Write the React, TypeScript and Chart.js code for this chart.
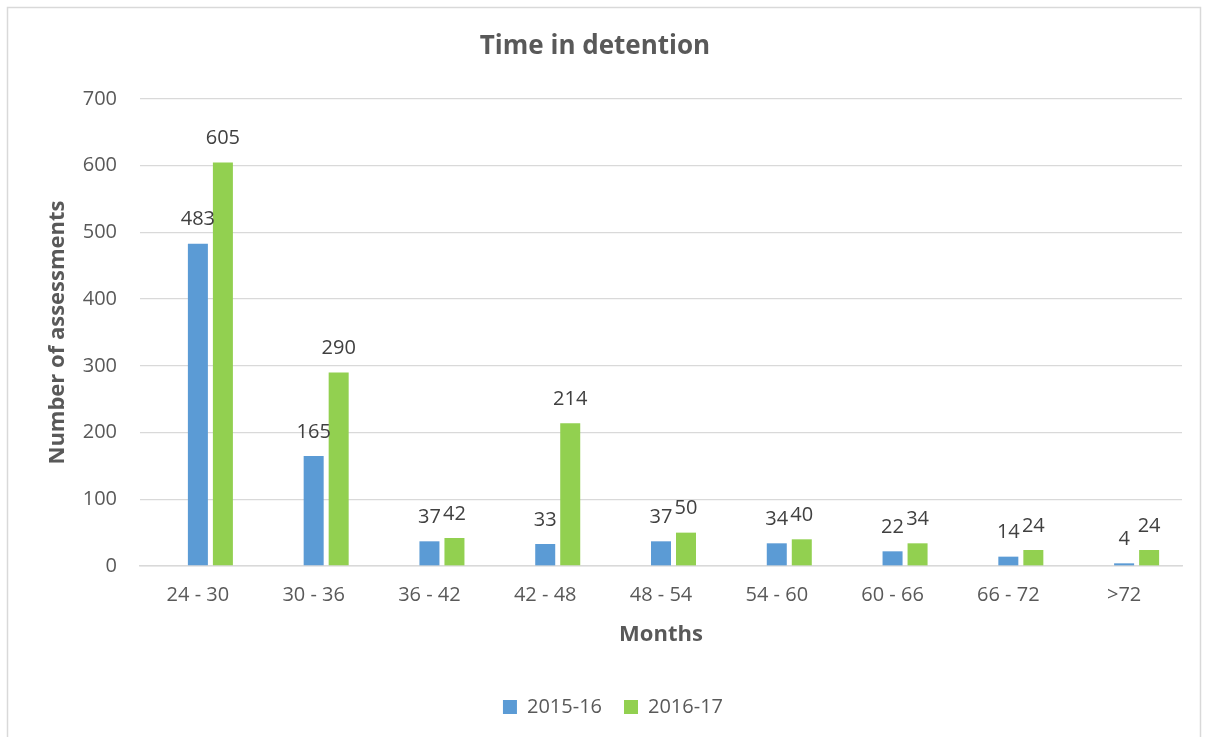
import React, { useEffect, useRef } from "react";
import { Chart, registerables } from "chart.js";

Chart.register(...registerables);

const categories = ["24 - 30", "30 - 36", "36 - 42", "42 - 48", "48 - 54", "54 - 60", "60 - 66", "66 - 72", ">72"];
const series2015 = [483, 165, 37, 33, 37, 34, 22, 14, 4];
const series2016 = [605, 290, 42, 214, 50, 40, 34, 24, 24];
const spacerSeries: (number | null)[] = [null, null, null, null, null, null, null, null, null];
const yTicks = { min: 0, max: 700, step: 100 };

const FONT = "'Open Sans', 'Noto Sans', sans-serif";

const borderPlugin = {
  id: "outerBorder",
  beforeDraw(chart: any) {
    const ctx = chart.ctx;
    ctx.save();
    ctx.fillStyle = "#ffffff";
    ctx.fillRect(0, 0, chart.width, chart.height);
    ctx.strokeStyle = "#d9d9d9";
    ctx.lineWidth = 1.5;
    ctx.strokeRect(7.5, 7.5, 1193, 745);
    ctx.restore();
  },
};

const legendShiftPlugin = {
  id: "legendShift",
  afterLayout(chart: any) {
    if (chart.legend) {
      chart.legend.left += 18;
      chart.legend.right += 18;
    }
  },
};

const labelPlugin = {
  id: "valueLabels",
  afterDatasetsDraw(chart: any) {
    const ctx = chart.ctx;
    ctx.save();
    ctx.font = `20px ${FONT}`;
    ctx.fillStyle = "#404040";
    ctx.textAlign = "center";
    ctx.textBaseline = "middle";
    chart.data.datasets.forEach((ds: any, i: number) => {
      if (i === 0) return;
      const meta = chart.getDatasetMeta(i);
      meta.data.forEach((el: any, j: number) => {
        const v = ds.data[j];
        if (v == null) return;
        ctx.fillText(String(v), el.x, el.y - 24);
      });
    });
    ctx.restore();
  },
};

export default function App() {
  const ref = useRef<HTMLCanvasElement | null>(null);
  useEffect(() => {
    if (!ref.current) return;
    const chart = new Chart(ref.current, {
      type: "bar",
      data: {
        labels: categories,
        datasets: [
          { label: "", data: spacerSeries, backgroundColor: "rgba(0,0,0,0)" },
          { label: "2015-16", data: series2015, backgroundColor: "#5B9BD5" },
          { label: "2016-17", data: series2016, backgroundColor: "#92D050" },
        ],
      },
      options: {
        responsive: false,
        animation: false,
        datasets: { bar: { categoryPercentage: 0.648, barPercentage: 0.8 } },
        layout: { padding: { left: 8, right: 23, top: 0, bottom: 10 } },
        plugins: {
          title: {
            display: true,
            text: "Time in detention",
            color: "#595959",
            font: { family: FONT, size: 26, weight: "bold" },
            padding: { top: 31.4, bottom: 36.4 },
          },
          legend: {
            position: "bottom",
            labels: {
              color: "#595959",
              font: { family: FONT, size: 20 },
              boxWidth: 14,
              boxHeight: 14,
              padding: 22,
              filter: (item: any) => item.datasetIndex !== 0,
            },
          },
          tooltip: { enabled: false },
        },
        scales: {
          x: {
            grid: { display: false, drawTicks: false },
            border: { display: true, color: "#d9d9d9", width: 1.5 },
            ticks: { color: "#595959", font: { family: FONT, size: 20 }, padding: 17 },
            title: {
              display: true,
              text: "Months",
              color: "#595959",
              font: { family: FONT, size: 22, weight: "bold" },
              padding: { top: 0, bottom: 26.8 },
            },
            afterFit: (scale: any) => {
              scale.height = 109;
            },
          },
          y: {
            min: yTicks.min,
            max: yTicks.max,
            grid: { color: "#d9d9d9", lineWidth: 1.3, drawTicks: false },
            border: { display: false },
            ticks: { stepSize: yTicks.step, color: "#595959", font: { family: FONT, size: 20 }, padding: 23 },
            title: {
              display: true,
              text: "Number of assessments",
              color: "#595959",
              font: { family: FONT, size: 22, weight: "bold" },
              padding: { top: 36.8, bottom: 0 },
            },
            afterFit: (scale: any) => {
              scale.width = 132;
            },
          },
        },
      },
      plugins: [borderPlugin, legendShiftPlugin, labelPlugin],
    } as any);
    return () => chart.destroy();
  }, []);
  return (
    <div style={{ position: "absolute", left: 0, top: 0, width: 1205, height: 737 }}>
      <canvas ref={ref} width={1205} height={737} />
    </div>
  );
}
